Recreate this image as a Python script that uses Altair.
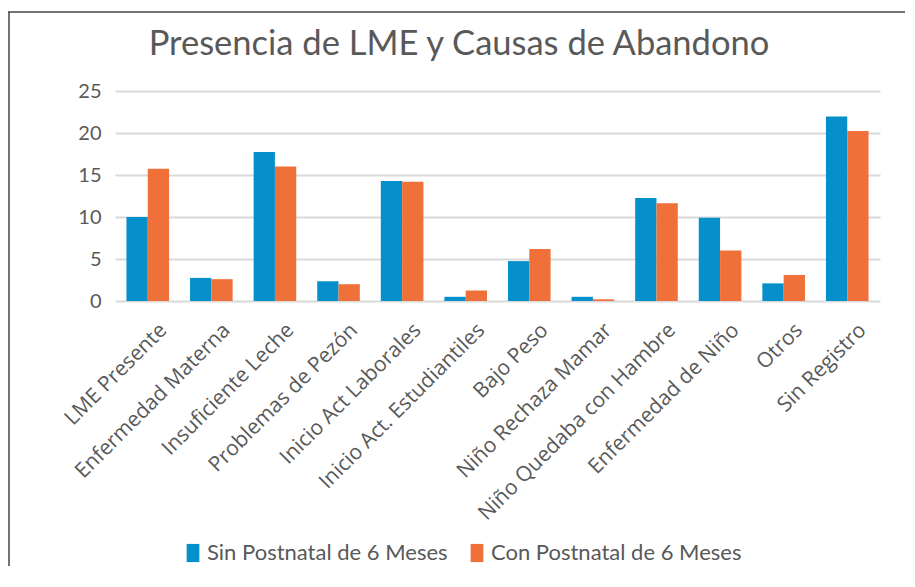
import altair as alt
import pandas as pd

title_text = "Presencia de LME y Causas de Abandono"
categories = ["LME Presente", "Enfermedad Materna", "Insuficiente Leche", "Problemas de Pezón",
              "Inicio Act Laborales", "Inicio Act. Estudiantiles", "Bajo Peso", "Niño Rechaza Mamar",
              "Niño Quedaba con Hambre", "Enfermedad de Niño", "Otros", "Sin Registro"]
sin_postnatal = [10.0, 2.75, 17.75, 2.35, 14.3, 0.5, 4.75, 0.5, 12.25, 9.9, 2.1, 21.95]
con_postnatal = [15.75, 2.6, 16.0, 2.0, 14.2, 1.25, 6.2, 0.2, 11.65, 6.0, 3.1, 20.25]
series = ["Sin Postnatal de 6 Meses", "Con Postnatal de 6 Meses"]
colors = ["#0590CB", "#F0703A"]
y_ticks = [0, 5, 10, 15, 20, 25]

rows = []
for c, a, b in zip(categories, sin_postnatal, con_postnatal):
    rows.append({"cat": c, "series": series[0], "value": a})
    rows.append({"cat": c, "series": series[1], "value": b})
df = pd.DataFrame(rows)

FONT = "Lato"
LFONT = "Open Sans"
GREY = "#595959"

bars = alt.Chart(df).mark_bar().encode(
    x=alt.X("cat:N", sort=categories, title=None,
            scale=alt.Scale(paddingInner=0.33, paddingOuter=0.18),
            axis=alt.Axis(labelAngle=-45, labelFontSize=21, labelColor=GREY, labelFont=LFONT,
                          ticks=False, domain=False, labelPadding=18, labelOffset=8,
                          labelLimit=0)),
    xOffset=alt.XOffset("series:N", sort=series),
    y=alt.Y("value:Q", title=None, scale=alt.Scale(domain=[0, 25], nice=False),
            axis=alt.Axis(values=y_ticks, labelFontSize=20, labelColor=GREY, labelFont=FONT,
                          ticks=False, domain=False, labelPadding=14,
                          gridColor="#D9D9D9", gridWidth=2)),
    color=alt.Color("series:N", sort=series, scale=alt.Scale(domain=series, range=colors),
                    legend=alt.Legend(title=None, orient="none", legendX=67, legendY=451,
                                      direction="horizontal", labelFontSize=22, labelColor=GREY,
                                      labelFont=FONT, symbolType="M-0.7,-1H0.7V1H-0.7Z",
                                      symbolSize=330, symbolStrokeWidth=0, symbolOpacity=1,
                                      columnPadding=18, labelLimit=0, labelOffset=3)),
)

frame_df = pd.DataFrame({"k": [0]})
top_rule = alt.Chart(frame_df).mark_rule(color="#444444", strokeWidth=1.5).encode(
    x=alt.value(-107), x2=alt.value(800), y=alt.value(-79))
left_rule = alt.Chart(frame_df).mark_rule(color="#444444", strokeWidth=1.5).encode(
    x=alt.value(-106), y=alt.value(-79), y2=alt.value(480))
title_mark = alt.Chart(frame_df).mark_text(
    font=FONT, fontSize=34.5, color=GREY, align="center", baseline="middle").encode(
    x=alt.value(344), y=alt.value(-46), text=alt.value(title_text))

chart = alt.layer(bars, top_rule, left_rule, title_mark).properties(
    width=765, height=210,
    autosize=alt.AutoSizeParams(type="none"),
    padding={"left": 107, "top": 83, "right": 25, "bottom": 265},
).configure_view(stroke=None)

chart.save("out.html", embed_options={"renderer": "svg", "actions": False})
